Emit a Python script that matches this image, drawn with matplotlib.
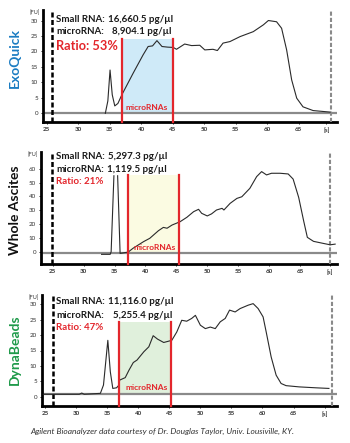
import numpy as np
import matplotlib
matplotlib.use("Agg")
import matplotlib.pyplot as plt

# ---------------- data ----------------
panel_names = ["ExoQuick", "Whole Ascites", "DynaBeads"]
small_rna = ["16,660.5 pg/µl", "5,297.3 pg/µl", "11,116.0 pg/µl"]
micro_rna = ["8,904.1 pg/µl", "1,119.5 pg/µl", "5,255.4 pg/µl"]
ratios = ["Ratio: 53%", "Ratio: 21%", "Ratio: 47%"]

exo_t = [34.3, 34.7, 35.05, 35.4, 35.8, 36.3, 36.9, 38.7, 40.3, 41.1, 41.8, 42.5, 43.3, 44.2, 45.1, 45.6,
         46.9, 48.0, 49.3, 50.1, 51.4, 52.1, 53.0, 54.1, 55.7, 57.8, 59.4, 60.2, 61.5, 62.3, 63.1,
         63.9, 64.7, 65.7, 67.3, 70.0]
exo_fu = [0.0, 4.0, 14.0, 6.0, 2.4, 3.2, 5.9, 12.9, 18.9, 21.6, 21.8, 23.5, 21.6, 21.4, 21.3, 20.7,
          22.4, 21.9, 22.0, 20.5, 20.7, 20.3, 22.7, 23.2, 24.8, 26.4, 28.6, 30.0, 29.6, 27.5, 20.5,
          10.8, 4.9, 2.1, 0.9, 0.4]

asc_t = [32.9, 34.3, 34.45, 34.9, 35.2, 35.5, 35.9, 37.2, 38.0, 39.7, 40.7, 42.1, 42.9, 43.5, 44.3,
         45.6, 46.7, 47.8, 48.6, 49.1, 50.0, 50.7, 51.5, 52.4, 52.7, 53.7, 54.8, 55.6, 56.9, 58.0,
         58.8, 59.6, 60.4, 61.8, 63.1, 63.9, 64.8, 65.6, 66.2, 67.2, 68.8, 69.9, 70.7]
asc_fu = [-1.9, -1.9, 0.0, 55.0, np.nan, 55.0, -1.2, -0.3, 2.5, 7.3, 9.7, 15.2, 17.6, 17.0, 19.3,
          21.7, 24.9, 29.0, 30.7, 27.8, 25.9, 27.4, 30.2, 31.4, 30.2, 35.0, 38.6, 39.8, 45.9, 54.4,
          58.0, 55.6, 56.8, 56.8, 56.3, 52.6, 39.3, 22.4, 10.4, 7.5, 6.0, 5.0, 5.5]

dyna_t = [24.7, 30.5, 30.9, 31.3, 33.9, 34.4, 35.1, 35.5, 35.9, 36.5, 36.9, 37.0, 37.9, 38.5, 39.2,
          39.8, 40.9, 41.7, 42.4, 43.1, 44.1, 45.4, 46.2, 47.0, 47.8, 48.6, 49.2, 50.0, 50.8, 51.6,
          52.4, 53.2, 54.0, 54.7, 55.6, 56.4, 57.7, 58.5, 59.3, 60.1, 60.6, 61.4, 62.2, 63.0, 63.8,
          65.9, 68.6, 70.7]
dyna_fu = [0.8, 0.8, 1.2, 0.8, 1.1, 3.8, 18.3, 8.1, 2.7, 2.9, 3.8, 5.4, 6.2, 8.6, 11.1,
           11.9, 14.6, 16.2, 19.8, 18.7, 17.6, 18.3, 21.0, 24.8, 24.5, 25.4, 26.4, 23.2, 22.1, 22.6,
           22.1, 24.3, 25.4, 28.1, 27.5, 28.6, 29.7, 30.2, 28.6, 25.9, 21.0, 12.9, 7.0, 4.3, 3.6,
           3.2, 2.9, 2.7]

mirna_windows = [(36.9, 45.1), (37.1, 45.5), (36.9, 45.3)]
shade_tops = [24.0, 55.4, 24.3]
baselines = [0.0, -1.2, 0.8]
left_markers = [25.9, 24.8, 26.2]
right_markers = [70.2, 69.9, 71.2]
x_tick_vals = [25, 30, 35, 40, 45, 50, 55, 60, 65]
s_label_pos = [69.4, 69.9, 70.1]
y_tick_sets = [[0, 5, 10, 15, 20, 25, 30], [0, 10, 20, 30, 40, 50, 60], [0, 5, 10, 15, 20, 25, 30]]
xlims = [(24.4, 71.1), (23.1, 71.0), (24.5, 72.0)]
ylims = [(-2.8, 33.4), (-8.9, 72.2), (-3.0, 33.0)]

# ---------------- style / layout ----------------
W, H = 350, 443
fig = plt.figure(figsize=(W / 100, H / 100), dpi=100)
FONT = "Lato"

panels_px = [(43, 10, 337, 122), (41, 152, 337, 264), (42, 295, 337, 406)]  # left, top, right, bottom
name_colors = ["#1b7cc2", "#111111", "#1f9a4a"]
name_weights = ["bold", "bold", "bold"]
name_centers = [57.5, 210, 349.5]
shade_colors = ["#cfeaf8", "#fbfbe2", "#e0f0dc"]
text_rows = [(19, 32, 46), (156.7, 169.3, 181.7), (301.7, 315, 327.7)]
val_x = [(108, 112), (108, 107), (108, 113)]
ratio_sizes = [9.2, 7.0, 7.0]
mirna_lbl = [(125, 108), (133, 247), (125, 388)]
RED = "#e3262c"

series = [(exo_t, exo_fu), (asc_t, asc_fu), (dyna_t, dyna_fu)]

for i in range(3):
    l, t, r, b = panels_px[i]
    ax = fig.add_axes([l / W, 1 - b / H, (r - l) / W, (b - t) / H])
    ax.set_xlim(*xlims[i])
    ax.set_ylim(*ylims[i])
    for s in ["top", "right"]:
        ax.spines[s].set_visible(False)
    ax.spines["left"].set_linewidth(2.0)
    ax.spines["bottom"].set_linewidth(2.0)

    x0, x1 = mirna_windows[i]
    ax.fill_between([x0, x1], baselines[i], shade_tops[i], color=shade_colors[i], lw=0, zorder=1)
    ax.axhline(baselines[i], color="#8a8a8a", lw=1.6, zorder=2)
    ax.axvline(left_markers[i], color="black", lw=1.8, ls=(0, (2, 1)), zorder=3)
    ax.axvline(right_markers[i], color="#8a8a8a", lw=1.5, ls=(0, (2, 1)), zorder=3)
    ax.plot(series[i][0], series[i][1], color="#2a2a2a", lw=0.8, zorder=4)
    for xv in (x0, x1):
        ax.plot([xv, xv], [ylims[i][0], shade_tops[i]], color=RED, lw=1.6, zorder=5, clip_on=False)

    ax.set_xticks(x_tick_vals + [s_label_pos[i]])
    ax.set_xticklabels([str(v) for v in x_tick_vals] + ["[s]"], fontsize=4.5, family=FONT,
                       fontweight="bold", color="#333333")
    ax.set_yticks(y_tick_sets[i])
    ax.set_yticklabels([str(v) for v in y_tick_sets[i]], fontsize=4.5, family=FONT, color="#333333")
    ax.tick_params(axis="both", length=1.5, width=0.6, pad=2)
    ax.text(-0.028, 1.0, "[FU]", transform=ax.transAxes, fontsize=4, family=FONT,
            ha="center", va="top", color="#333333")

    fig.text(15 / W, 1 - name_centers[i] / H, panel_names[i], rotation=90, ha="center",
             va="center", fontsize=10, family=FONT, fontweight=name_weights[i], color=name_colors[i])

    r1, r2, r3 = text_rows[i]
    fig.text(56 / W, 1 - r1 / H, "Small RNA:", fontsize=7, family=FONT, fontweight="bold",
             va="center", color="#1a1a1a")
    fig.text(val_x[i][0] / W, 1 - r1 / H, small_rna[i], fontsize=7, family=FONT,
             fontweight="bold", va="center", color="#1a1a1a")
    fig.text(56 / W, 1 - r2 / H, "microRNA:", fontsize=7, family=FONT, fontweight="bold",
             va="center", color="#1a1a1a")
    fig.text(val_x[i][1] / W, 1 - r2 / H, micro_rna[i], fontsize=7, family=FONT,
             fontweight="bold", va="center", color="#1a1a1a")
    fig.text(56 / W, 1 - r3 / H, ratios[i], fontsize=ratio_sizes[i], family=FONT,
             fontweight="bold", va="center", color=RED)
    fig.text(mirna_lbl[i][0] / W, 1 - mirna_lbl[i][1] / H, "microRNAs", fontsize=6,
             family=FONT, fontweight="bold", va="center", color=RED)

fig.text(162 / W, 1 - 431 / H,
         "Agilent Bioanalyzer data courtesy of Dr. Douglas Taylor, Univ. Lousiville, KY.",
         ha="center", va="center", fontsize=6.0, family=FONT, style="italic", color="#333333")

fig.savefig("out.png", dpi=100)
